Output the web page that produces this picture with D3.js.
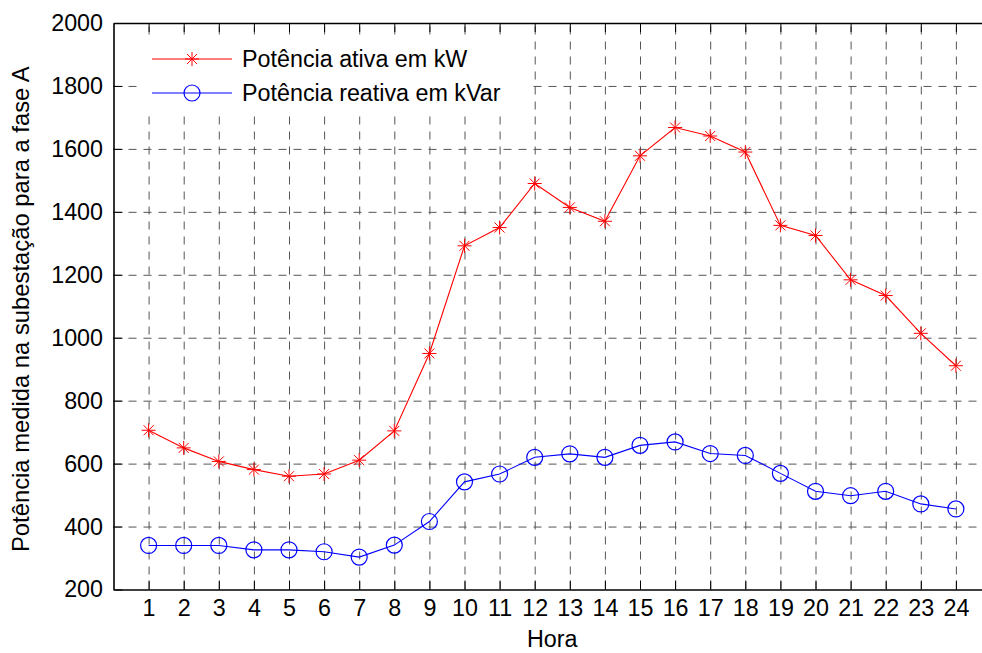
<!DOCTYPE html>
<html>
<head>
<meta charset="utf-8">
<script src="https://cdn.jsdelivr.net/npm/d3@7"></script>
<style>
  body { margin: 0; background: #fff; }
  svg { display: block; font-family: "Liberation Sans", Arial, sans-serif; }
</style>
</head>
<body>
<svg id="chart" width="982" height="653"></svg>
<script>
// hours on the x axis
const horas = [1, 2, 3, 4, 5, 6, 7, 8, 9, 10, 11, 12, 13, 14, 15, 16, 17, 18, 19, 20, 21, 22, 23, 24];
// active power (kW)
const ativa = [706, 650, 607, 581, 560, 567, 611, 704, 950, 1292, 1350, 1490, 1414, 1370, 1578, 1668, 1641, 1590, 1357, 1325, 1184, 1134, 1014, 911];
// reactive power (kVar)
const reativa = [340, 340, 340, 326, 326, 320, 303, 341, 416, 542, 567, 620, 631, 620, 658, 669, 632, 626, 569, 512, 498, 512, 472, 456];
const yTicks = [200, 400, 600, 800, 1000, 1200, 1400, 1600, 1800, 2000];
const legendLabels = ['Potência ativa em kW', 'Potência reativa em kVar'];

const svg = d3.select('#chart');
const plotL = 113.5, plotR = 991, plotT = 23, plotB = 589.5;
const fontSize = '23.3px';

const x = d3.scaleLinear().domain([0, 25]).range([plotL, plotR]);
const y = d3.scaleLinear().domain([200, 2000]).range([plotB, plotT]);

// grid
const grid = svg.append('g');
grid.append('g').attr('transform', `translate(0,${plotB})`)
  .call(d3.axisBottom(x).tickValues(horas).tickSize(-(plotB - plotT)).tickFormat(''))
  .call(g => g.select('.domain').remove());
grid.append('g').attr('transform', `translate(${plotL},0)`)
  .call(d3.axisLeft(y).tickValues(yTicks.slice(1, -1)).tickSize(-(plotR - plotL)).tickFormat(''))
  .call(g => g.select('.domain').remove());
grid.selectAll('line').attr('stroke', '#555').attr('stroke-width', 1).attr('stroke-dasharray', '8,7');

// series
const series = [
  { values: ativa, color: '#ff0000', marker: 'star' },
  { values: reativa, color: '#0000ff', marker: 'circle' }
];

function drawMarker(g, type, color) {
  if (type === 'star') {
    const r = 7, d = 5;
    g.append('path')
      .attr('d', `M${-r},0H${r}M0,${-r}V${r}M${-d},${-d}L${d},${d}M${-d},${d}L${d},${-d}`)
      .attr('stroke', color).attr('stroke-width', 1).attr('fill', 'none');
  } else {
    g.append('circle').attr('r', 8).attr('fill', 'none')
      .attr('stroke', color).attr('stroke-width', 1.2);
  }
}

const line = d3.line().x((d, i) => x(horas[i])).y(d => y(d));
series.forEach(s => {
  svg.append('path').datum(s.values).attr('d', line)
    .attr('fill', 'none').attr('stroke', s.color).attr('stroke-width', 1.1);
  svg.append('g').selectAll('g').data(s.values).join('g')
    .attr('transform', (d, i) => `translate(${x(horas[i])},${y(d)})`)
    .each(function () { drawMarker(d3.select(this), s.marker, s.color); });
});

// legend
const legend = svg.append('g');
legend.append('rect').attr('x', 137).attr('y', 35).attr('width', 391).attr('height', 81).attr('fill', '#fff');
const rows = [59, 93];
series.forEach((s, i) => {
  const gy = rows[i];
  legend.append('line').attr('x1', 152).attr('x2', 232).attr('y1', gy).attr('y2', gy)
    .attr('stroke', s.color).attr('stroke-width', 1.1);
  drawMarker(legend.append('g').attr('transform', `translate(192,${gy})`), s.marker, s.color);
  legend.append('text').attr('x', 242).attr('y', gy + 7.8)
    .attr('font-size', fontSize).attr('fill', '#000').text(legendLabels[i]);
});

// axes
const axB = svg.append('g').attr('transform', `translate(0,${plotB})`)
  .call(d3.axisBottom(x).tickValues(horas).tickSize(-9).tickSizeOuter(0).tickPadding(10));
const axT = svg.append('g').attr('transform', `translate(0,${plotT})`)
  .call(d3.axisTop(x).tickValues(horas).tickSize(-9).tickSizeOuter(0).tickFormat(''));
const axL = svg.append('g').attr('transform', `translate(${plotL},0)`)
  .call(d3.axisLeft(y).tickValues(yTicks).tickFormat(d3.format('d')).tickSize(-9).tickSizeOuter(0).tickPadding(10.5));
[axB, axT, axL].forEach(a => {
  a.select('.domain').attr('stroke', '#000').attr('stroke-width', 1.6);
  a.selectAll('.tick line').attr('stroke', '#000').attr('stroke-width', 1);
  a.selectAll('text').attr('font-size', fontSize).attr('fill', '#000').attr('font-family', null);
});
axB.selectAll('text').attr('dy', '0.71em');

svg.append('text').attr('x', (plotL + plotR) / 2).attr('y', 647)
  .attr('text-anchor', 'middle').attr('font-size', fontSize).text('Hora');
svg.append('text').attr('transform', `translate(29,${(plotT + plotB) / 2 + 3}) rotate(-90)`)
  .attr('text-anchor', 'middle').attr('font-size', '23.8px')
  .text('Potência medida na subestação para a fase A');
</script>
</body>
</html>
